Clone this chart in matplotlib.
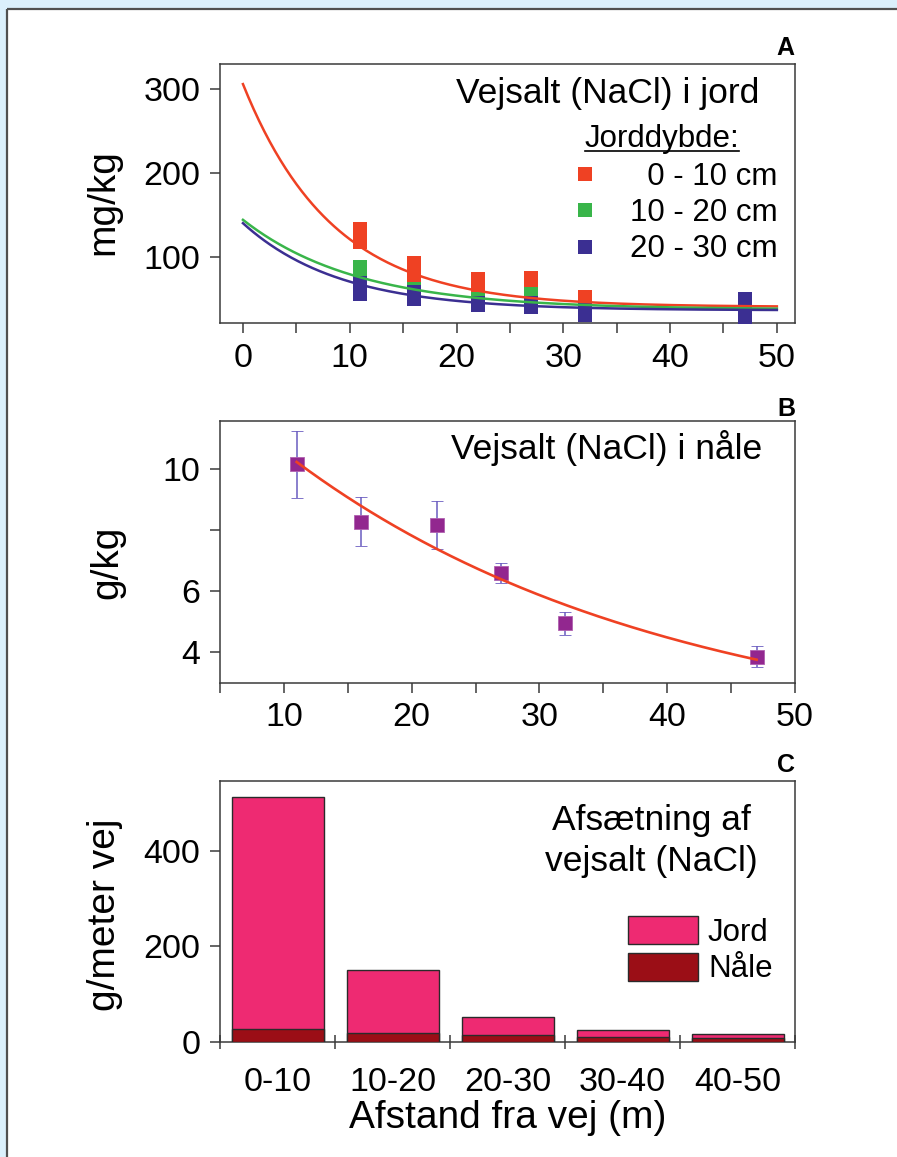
import numpy as np
import matplotlib
matplotlib.use('Agg')
import matplotlib.pyplot as plt
from matplotlib.patches import Rectangle
from matplotlib.lines import Line2D

plt.rcParams['font.family'] = ['Liberation Sans', 'DejaVu Sans']

# ---------------- Panel A: road salt in soil (mg/kg) ----------------
dist_soil_0_10 = [11, 11, 11, 16, 16, 16, 22, 22, 27, 27, 32, 47]
salt_soil_0_10 = [118, 126, 133, 76, 84, 92, 64, 73, 69, 75, 52, 42]
dist_soil_10_20 = [11, 11, 16, 22, 27, 32, 47]
salt_soil_10_20 = [80, 88, 62, 50, 55, 38, 40]
dist_soil_20_30 = [11, 11, 11, 16, 16, 22, 22, 27, 27, 32, 32, 47, 47, 47]
salt_soil_20_30 = [56, 62, 69, 50, 58, 42, 45, 40, 45, 30, 38, 28, 38, 50]
depth_labels = ['  0 - 10 cm', '10 - 20 cm', '20 - 30 cm']
# exponential fit lines: y = base + amp * exp(-x / scale), x from 0 to 50
soil_fit_base = [40, 37, 36]
soil_fit_amp = [266, 107, 104]
soil_fit_scale = [8.4, 10.7, 9.0]
soil_fit_range = [0, 50]

# ---------------- Panel B: road salt in needles (g/kg) ----------------
needle_dist = [11, 16, 22, 27, 32, 47]
needle_salt = [10.16, 8.27, 8.16, 6.60, 4.93, 3.84]
needle_err = [1.10, 0.80, 0.80, 0.33, 0.38, 0.36]
needle_fit_base = 1.0
needle_fit_amp = 13.39
needle_fit_scale = 29.6
needle_fit_range = [11, 47]

# ---------------- Panel C: deposition (g per metre road) ----------------
dist_classes = ['0-10', '10-20', '20-30', '30-40', '40-50']
deposit_soil = [513, 150, 52.5, 24, 15.5]
deposit_needle = [26, 19, 13.4, 9.8, 7.7]

# ---------------- styling ----------------
W, H = 897, 1157
RED = '#ef4123'
GREEN = '#39b54a'
BLUE = '#3b2f92'
PURPLE = '#92278f'
ERRC = '#6a5cc0'
PINK = '#ee2a72'
DARKRED = '#9b0e16'
SPINE = '#3a3a3a'

fig = plt.figure(figsize=(W / 100, H / 100), dpi=100)
fig.patch.set_facecolor('#dbf0fc')


def fx(x):
    return x / W


def fy(y):
    return 1 - y / H


# white inner panel with a border on its top and left sides only
fig.add_artist(Rectangle((fx(7), -0.05), 1.1, fy(9) + 0.05, transform=fig.transFigure,
                         facecolor='white', edgecolor='none', zorder=-10))
fig.add_artist(Line2D([fx(7), 1.05], [fy(9), fy(9)], transform=fig.transFigure,
                      color='#505050', lw=1.6, zorder=-9, solid_capstyle='butt'))
fig.add_artist(Line2D([fx(7), fx(7)], [-0.05, fy(9)], transform=fig.transFigure,
                      color='#505050', lw=1.6, zorder=-9, solid_capstyle='butt'))


def make_axes(top, bottom, left=220, right=795):
    ax = fig.add_axes([fx(left), fy(bottom), (right - left) / W, (bottom - top) / H])
    for s in ax.spines.values():
        s.set_color(SPINE)
        s.set_linewidth(1.1)
    ax.tick_params(which='both', direction='out', length=7, width=1.1, color=SPINE,
                   labelsize=24.5, pad=7.2, top=False, right=False)
    return ax


# ---- Panel A ----
axA = make_axes(64, 323.3)
pts = []
for xs, ys, c in [(dist_soil_0_10, salt_soil_0_10, RED),
                  (dist_soil_10_20, salt_soil_10_20, GREEN),
                  (dist_soil_20_30, salt_soil_20_30, BLUE)]:
    p, = axA.plot(xs, ys, linestyle='none', marker='s', markersize=9.8, color=c,
                  markeredgewidth=0, zorder=3)
    pts.append(p)
xfit = np.linspace(soil_fit_range[0], soil_fit_range[1], 300)
for b, a, s, c in zip(soil_fit_base, soil_fit_amp, soil_fit_scale, [RED, GREEN, BLUE]):
    axA.plot(xfit, b + a * np.exp(-xfit / s), color=c, lw=1.8, zorder=4)
axA.set_xlim(-2.15, 51.7)
axA.set_ylim(20.5, 330)
axA.set_xticks([0, 10, 20, 30, 40, 50])
axA.set_xticks([5, 15, 25, 35, 45], minor=True)
axA.set_yticks([100, 200, 300])

legA = axA.legend(pts, depth_labels, loc='upper right',
                  bbox_to_anchor=(fx(778), fy(162)), bbox_transform=fig.transFigure,
                  frameon=False, borderpad=0, borderaxespad=0, fontsize=22.5,
                  handlelength=1.0, handletextpad=0.94, labelspacing=0.20, markerscale=1.0)

fig.text(fx(759), fy(103.3), 'Vejsalt (NaCl) i jord', fontsize=25.5, ha='right', va='baseline')
tJ = fig.text(fx(662), fy(147.3), 'Jorddybde:', fontsize=22.5, ha='center', va='baseline')
fig.text(fx(103), fy(202), 'mg/kg', fontsize=28, rotation=90, ha='center', va='center')
fig.text(fx(785), fy(55), 'A', fontsize=18, fontweight='bold', ha='center', va='baseline')

# ---- Panel B ----
axB = make_axes(421, 682.7)
xb = np.linspace(needle_fit_range[0], needle_fit_range[1], 300)
axB.plot(xb, needle_fit_base + needle_fit_amp * np.exp(-xb / needle_fit_scale),
         color=RED, lw=1.9, zorder=4)
axB.errorbar(needle_dist, needle_salt, yerr=needle_err, fmt='s', color=PURPLE,
             markersize=9.8, markeredgecolor='#b060b0', markeredgewidth=0.6,
             ecolor=ERRC, elinewidth=1.1, capsize=4.5, capthick=1.1, zorder=3)
axB.set_xlim(5, 50)
axB.set_ylim(2.98, 11.58)
axB.set_xticks([10, 20, 30, 40, 50])
axB.set_xticks([5, 15, 25, 35, 45], minor=True)
axB.set_yticks([4, 6, 8, 10])
axB.set_yticklabels(['4', '6', '', '10'])
fig.text(fx(762), fy(459.3), 'Vejsalt (NaCl) i nåle', fontsize=25.5, ha='right', va='baseline')
fig.text(fx(107), fy(562), 'g/kg', fontsize=28, rotation=90, ha='center', va='center')
fig.text(fx(786), fy(416), 'B', fontsize=18, fontweight='bold', ha='center', va='baseline')

# ---- Panel C ----
axC = make_axes(780.7, 1041.7)
xc = np.arange(len(dist_classes))
bj = axC.bar(xc, deposit_soil, width=0.8, color=PINK, edgecolor='#2a2a2a', linewidth=1.0,
             label='Jord', zorder=2)
bn = axC.bar(xc, deposit_needle, width=0.8, color=DARKRED, edgecolor='#2a2a2a', linewidth=1.0,
             label='Nåle', zorder=3)
axC.set_xlim(-0.5, len(dist_classes) - 0.5)
axC.set_ylim(0, 547.5)
axC.set_yticks([0, 200, 400])
axC.set_xticks(xc)
axC.set_xticklabels(dist_classes)
axC.set_xticks(np.arange(-0.5, len(dist_classes), 1.0), minor=True)
axC.tick_params(axis='x', which='major', length=0, pad=18)
axC.tick_params(axis='x', which='minor', direction='inout', length=10)
axC.legend([bj, bn], ['Jord', 'Nåle'], loc='upper left',
           bbox_to_anchor=(fx(628), fy(916)), bbox_transform=fig.transFigure,
           frameon=False, borderpad=0, borderaxespad=0, fontsize=22.5,
           handlelength=2.24, handleheight=1.0, handletextpad=0.32, labelspacing=0.16)
fig.text(fx(651), fy(830), 'Afsætning af', fontsize=25.5, ha='center', va='baseline')
fig.text(fx(651), fy(870.5), 'vejsalt (NaCl)', fontsize=25.5, ha='center', va='baseline')
fig.text(fx(507.5), fy(1128), 'Afstand fra vej (m)', fontsize=28, ha='center', va='baseline')
fig.text(fx(105), fy(915), 'g/meter vej', fontsize=28, rotation=90, ha='center', va='center')
fig.text(fx(786), fy(772), 'C', fontsize=18, fontweight='bold', ha='center', va='baseline')

# underline for legend header
fig.canvas.draw()
bb = tJ.get_window_extent(fig.canvas.get_renderer())
fig.add_artist(Line2D([bb.x0 / W, bb.x1 / W], [fy(150.7), fy(150.7)],
                      transform=fig.transFigure, color='black', lw=1.2))

fig.savefig('out.png', dpi=100, facecolor=fig.get_facecolor())
